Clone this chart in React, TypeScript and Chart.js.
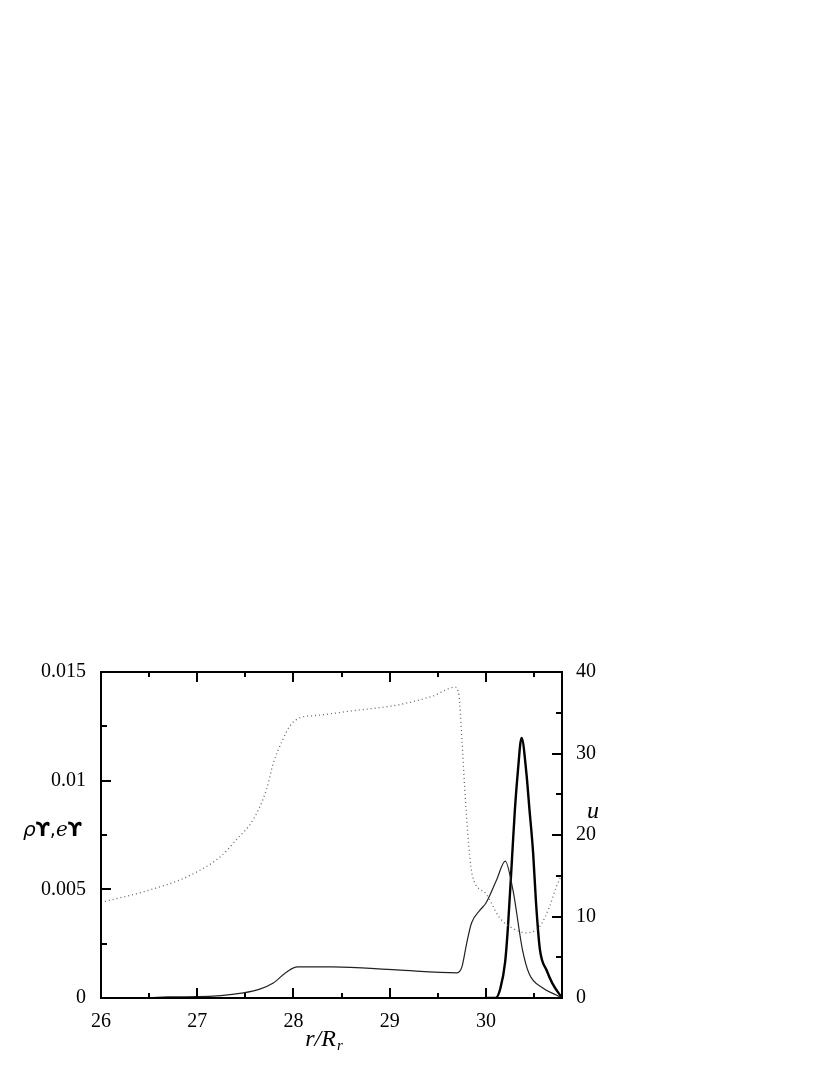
import React, { useEffect, useRef } from 'react';
import { Chart, registerables } from 'chart.js';

Chart.register(...registerables);

// r / R_r positions and values
const R_DOTTED = [26.0, 26.45, 26.89, 27.24, 27.41, 27.58, 27.72, 27.79, 27.89, 27.96, 28.07, 28.24, 28.59, 29.1, 29.45, 29.68, 29.72, 29.75, 29.78, 29.81, 29.83, 29.86, 30.0, 30.14, 30.28, 30.42, 30.56, 30.66, 30.73, 30.79];
const RHO_GAMMA = [0.0044, 0.0049, 0.00557, 0.0065, 0.0073, 0.0082, 0.0096, 0.0108, 0.0119, 0.0125, 0.0129, 0.013, 0.0132, 0.0135, 0.0139, 0.0143, 0.0139, 0.0119, 0.0096, 0.0076, 0.0066, 0.0056, 0.0048, 0.0037, 0.0032, 0.003, 0.0033, 0.0042, 0.0051, 0.0057];

const R_THIN = [26.0, 26.5, 26.69, 27.0, 27.48, 27.65, 27.79, 27.93, 28.04, 28.41, 29.07, 29.7, 29.75, 29.8, 29.85, 29.94, 30.0, 30.11, 30.2, 30.28, 30.38, 30.45, 30.59, 30.73, 30.79];
const E_GAMMA = [0, 0.00002, 0.00005, 0.00006, 0.00024, 0.00041, 0.00069, 0.0012, 0.00143, 0.00143, 0.00129, 0.00116, 0.00143, 0.00253, 0.00345, 0.00405, 0.00437, 0.00543, 0.0063, 0.00497, 0.0022, 0.0011, 0.00046, 0.00014, 0];

const R_THICK = [30.0, 30.1, 30.15, 30.2, 30.23, 30.27, 30.3, 30.33, 30.37, 30.42, 30.45, 30.49, 30.52, 30.56, 30.63, 30.69, 30.79];
const U_VALUES = [0, 0, 1.2, 4.5, 9, 17, 23, 27.6, 31.9, 27.6, 23.4, 17.8, 11.7, 6.0, 3.4, 1.8, 0];

const X_MIN = 26;
const X_MAX = 30.79;
const X_TICKS = [26, 27, 28, 29, 30];
const LEFT_TICKS = [0, 0.005, 0.01, 0.015];
const RIGHT_TICKS = [0, 10, 20, 30, 40];

const SERIF = '"Liberation Serif", "DejaVu Serif", serif';

const framePlugin = {
  id: 'frame',
  afterDraw(chart: any) {
    const { ctx, chartArea, scales } = chart;
    const { left, right, top, bottom } = chartArea;
    const x = scales.x, y = scales.y, y1 = scales.y1;
    ctx.save();
    ctx.strokeStyle = '#000';
    ctx.lineWidth = 2;
    ctx.strokeRect(left, top, right - left, bottom - top);
    ctx.beginPath();
    for (let v = 26.5; v < X_MAX; v += 0.5) {
      const px = Math.round(x.getPixelForValue(v));
      const len = Number.isInteger(v) ? 10 : 5;
      ctx.moveTo(px, bottom); ctx.lineTo(px, bottom - len);
      ctx.moveTo(px, top); ctx.lineTo(px, top + len);
    }
    for (let i = 1; i < 6; i++) {
      const v = i * 0.0025;
      const py = Math.round(y.getPixelForValue(v));
      const len = i % 2 === 0 ? 10 : 6;
      ctx.moveTo(left, py); ctx.lineTo(left + len, py);
    }
    for (let i = 1; i < 8; i++) {
      const v = i * 5;
      const py = Math.round(y1.getPixelForValue(v));
      const len = i % 2 === 0 ? 10 : 6;
      ctx.moveTo(right, py); ctx.lineTo(right - len, py);
    }
    ctx.stroke();

    // left title: ρϒ,eϒ
    ctx.fillStyle = '#000';
    ctx.textBaseline = 'middle';
    ctx.textAlign = 'left';
    const parts: [string, string][] = [
      ['ρ', 'italic 20px "DejaVu Sans", sans-serif'],
      ['ϒ', 'bold 19px "DejaVu Sans", sans-serif'],
      [',', '19px "DejaVu Sans", sans-serif'],
      ['e', 'italic 20px "DejaVu Serif", serif'],
      ['ϒ', 'bold 19px "DejaVu Sans", sans-serif'],
    ];
    let tx = 23;
    for (const [t, f] of parts) {
      ctx.font = f;
      ctx.fillText(t, tx, 831);
      tx += ctx.measureText(t).width;
    }

    // right title: u
    ctx.textAlign = 'center';
    ctx.font = 'italic 24px ' + SERIF;
    ctx.fillText('u', 593, 812);

    // x title: r/R_r
    ctx.textAlign = 'left';
    ctx.textBaseline = 'alphabetic';
    ctx.font = 'italic 24px ' + SERIF;
    const main = 'r/R';
    const wMain = ctx.measureText(main).width;
    ctx.font = 'italic 15px ' + SERIF;
    const wSub = ctx.measureText('r').width;
    const startX = 324 - (wMain + wSub + 1) / 2;
    ctx.font = 'italic 24px ' + SERIF;
    ctx.fillText(main, startX, 1046);
    ctx.font = 'italic 15px ' + SERIF;
    ctx.fillText('r', startX + wMain + 1, 1050);
    ctx.restore();
  },
};

export default function App() {
  const ref = useRef<HTMLCanvasElement | null>(null);
  useEffect(() => {
    if (!ref.current) return;
    const pts = (xs: number[], ys: number[]) => xs.map((v, i) => ({ x: v, y: ys[i] }));
    const tickFont = { family: SERIF, size: 20 };
    const chart = new Chart(ref.current, {
      type: 'line',
      data: {
        datasets: [
          {
            label: 'ργ',
            data: pts(R_DOTTED, RHO_GAMMA),
            yAxisID: 'y',
            borderColor: '#666',
            borderWidth: 1.3,
            borderDash: [1, 3],
            pointRadius: 0,
            cubicInterpolationMode: 'monotone',
          },
          {
            label: 'eγ',
            data: pts(R_THIN, E_GAMMA),
            yAxisID: 'y',
            borderColor: '#222',
            borderWidth: 1.2,
            pointRadius: 0,
            cubicInterpolationMode: 'monotone',
          },
          {
            label: 'u',
            data: pts(R_THICK, U_VALUES),
            yAxisID: 'y1',
            borderColor: '#000',
            borderWidth: 2.4,
            pointRadius: 0,
            cubicInterpolationMode: 'monotone',
          },
        ],
      },
      options: {
        animation: false,
        responsive: false,
        layout: { padding: { top: 672, left: 0, right: 0, bottom: 0 } },
        plugins: { legend: { display: false }, tooltip: { enabled: false } },
        scales: {
          x: {
            type: 'linear',
            min: X_MIN,
            max: X_MAX,
            grid: { display: false },
            border: { display: false },
            afterBuildTicks: (s: any) => { s.ticks = X_TICKS.map((v) => ({ value: v })); },
            afterFit: (s: any) => { s.height = 77; },
            ticks: { font: tickFont, color: '#000', padding: 4, maxRotation: 0, callback: (v: any) => String(v) },
          },
          y: {
            type: 'linear',
            position: 'left',
            min: 0,
            max: 0.015,
            grid: { display: false },
            border: { display: false },
            afterBuildTicks: (s: any) => { s.ticks = LEFT_TICKS.map((v) => ({ value: v })); },
            afterFit: (s: any) => { s.width = 101; },
            ticks: { font: tickFont, color: '#000', padding: 7, callback: (v: any) => String(Math.round(Number(v) * 1000) / 1000) },
          },
          y1: {
            type: 'linear',
            position: 'right',
            min: 0,
            max: 40,
            grid: { display: false },
            border: { display: false },
            afterBuildTicks: (s: any) => { s.ticks = RIGHT_TICKS.map((v) => ({ value: v })); },
            afterFit: (s: any) => { s.width = 268; },
            ticks: { font: tickFont, color: '#000', padding: 6, callback: (v: any) => String(v) },
          },
        },
      },
      plugins: [framePlugin],
    } as any);
    return () => chart.destroy();
  }, []);
  return (
    <div style={{ position: 'absolute', left: 0, top: 0, width: 830, height: 1075, background: '#fff' }}>
      <canvas ref={ref} width={830} height={1075} style={{ display: 'block' }} />
    </div>
  );
}
